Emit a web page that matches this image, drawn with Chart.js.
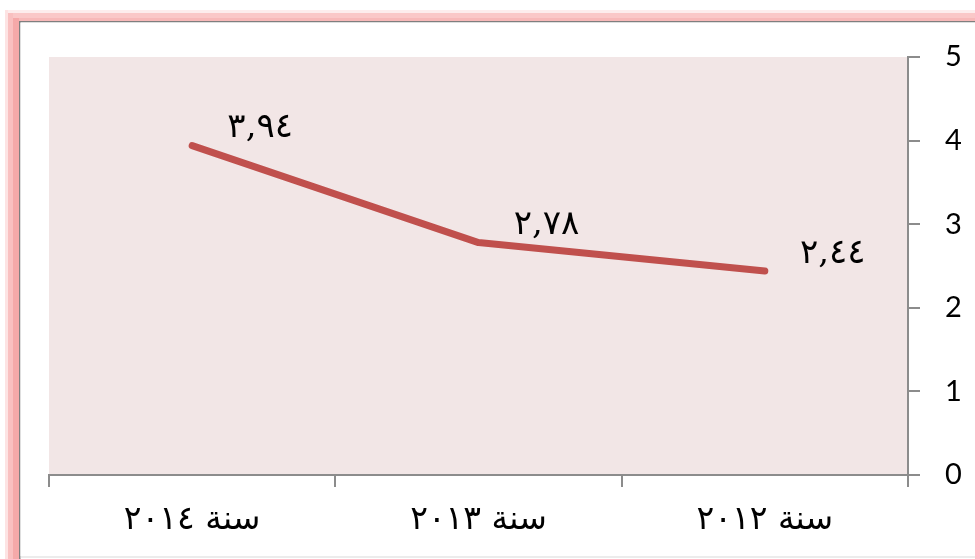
<!DOCTYPE html>
<html lang="ar">
<head>
<meta charset="utf-8">
<script src="https://cdn.jsdelivr.net/npm/chart.js@4/dist/chart.umd.min.js"></script>
<style>
  html, body { margin: 0; padding: 0; background: #ffffff; }
  #wrap { position: relative; width: 975px; height: 559px; }
  canvas { display: block; }
</style>
</head>
<body>
<div id="wrap"><canvas id="c" width="975" height="559"></canvas></div>
<script>
// Years shown on the horizontal axis (chronological; the axis runs right-to-left)
const categories = ['سنة ٢٠١٢', 'سنة ٢٠١٣', 'سنة ٢٠١٤'];
// Rate per year
const values = [2.44, 2.78, 3.94];
// Value labels written with Arabic-Indic digits
const valueLabels = ['٢,٤٤', '٢,٧٨', '٣,٩٤'];
// Right-hand axis ticks
const yTicks = [0, 1, 2, 3, 4, 5];

const LINE_RED = '#C0504D';
const AXIS_GRAY = '#8C8C8C';
const PLOT_BG = '#F2E6E6';
const ARABIC_FONT = '"DejaVu Serif", "DejaVu Sans", serif';

// Pink shadowed frame around the chart plus the shaded plot area
const framePlugin = {
  id: 'frame',
  beforeDraw(chart) {
    const ctx = chart.ctx;
    const w = chart.width, h = chart.height;
    ctx.save();
    ctx.fillStyle = '#ffffff';
    ctx.fillRect(0, 0, w, h);
    // soft pink edge, top
    ctx.fillStyle = '#FDEDED'; ctx.fillRect(5, 10, w, 3);
    ctx.fillStyle = '#FAC8C8'; ctx.fillRect(8, 13, w, 5);
    ctx.fillStyle = '#F7B9B9'; ctx.fillRect(13, 18, w, 3);
    // soft pink edge, left
    ctx.fillStyle = '#FDE3E3'; ctx.fillRect(5, 10, 3, h);
    ctx.fillStyle = '#F9C0C0'; ctx.fillRect(8, 13, 5, h);
    ctx.fillStyle = '#F5A9A9'; ctx.fillRect(13, 18, 6, h);
    // inner gray border
    ctx.fillStyle = '#7F7F7F';
    ctx.fillRect(19, 21, 1.5, h);
    ctx.fillRect(19, 21, w, 1.5);
    ctx.fillStyle = '#ffffff';
    ctx.fillRect(20.5, 22.5, w, h - 22.5 - 3);
    ctx.fillStyle = '#D9D9D9';
    ctx.fillRect(20.5, h - 2.5, w, 1);
    // plot area fill
    const a = chart.chartArea;
    ctx.fillStyle = PLOT_BG;
    ctx.fillRect(a.left, a.top, a.right - a.left, a.bottom - a.top);
    ctx.restore();
  }
};

// Value labels placed up and to the right of each point
const valueLabelPlugin = {
  id: 'valueLabels',
  afterDatasetsDraw(chart) {
    const ctx = chart.ctx;
    const meta = chart.getDatasetMeta(0);
    ctx.save();
    ctx.font = '34px ' + ARABIC_FONT;
    ctx.fillStyle = '#000000';
    ctx.textAlign = 'center';
    ctx.textBaseline = 'middle';
    meta.data.forEach((pt, i) => {
      ctx.fillText(valueLabels[i], pt.x + 68, pt.y - 17);
    });
    ctx.restore();
  }
};

new Chart(document.getElementById('c'), {
  type: 'line',
  data: {
    labels: categories,
    datasets: [{
      data: values,
      borderColor: LINE_RED,
      borderWidth: 7,
      borderCapStyle: 'round',
      borderJoinStyle: 'round',
      pointRadius: 0,
      pointHoverRadius: 0,
      tension: 0,
      fill: false
    }]
  },
  options: {
    responsive: false,
    animation: false,
    events: [],
    layout: { padding: { left: 49, top: 57, right: 0, bottom: 0 } },
    plugins: { legend: { display: false }, tooltip: { enabled: false } },
    scales: {
      x: {
        reverse: true,
        offset: true,
        afterFit(s) { s.height = 84; },
        grid: {
          offset: true,
          drawOnChartArea: false,
          drawTicks: true,
          tickLength: 12,
          color: AXIS_GRAY,
          lineWidth: 2
        },
        border: { display: true, color: AXIS_GRAY, width: 2 },
        ticks: {
          color: '#000000',
          padding: 14,
          maxRotation: 0,
          font: { family: ARABIC_FONT, size: 33 }
        }
      },
      y: {
        position: 'right',
        min: 0,
        max: 5,
        afterFit(s) { s.width = 67; },
        afterBuildTicks(s) { s.ticks = yTicks.map(v => ({ value: v })); },
        grid: {
          drawOnChartArea: false,
          drawTicks: true,
          tickLength: 12,
          color: AXIS_GRAY,
          lineWidth: 2
        },
        border: { display: true, color: AXIS_GRAY, width: 2 },
        ticks: {
          color: '#000000',
          padding: 25,
          font: { family: 'Lato, "Open Sans", sans-serif', size: 29 }
        }
      }
    }
  },
  plugins: [framePlugin, valueLabelPlugin]
});
</script>
</body>
</html>
